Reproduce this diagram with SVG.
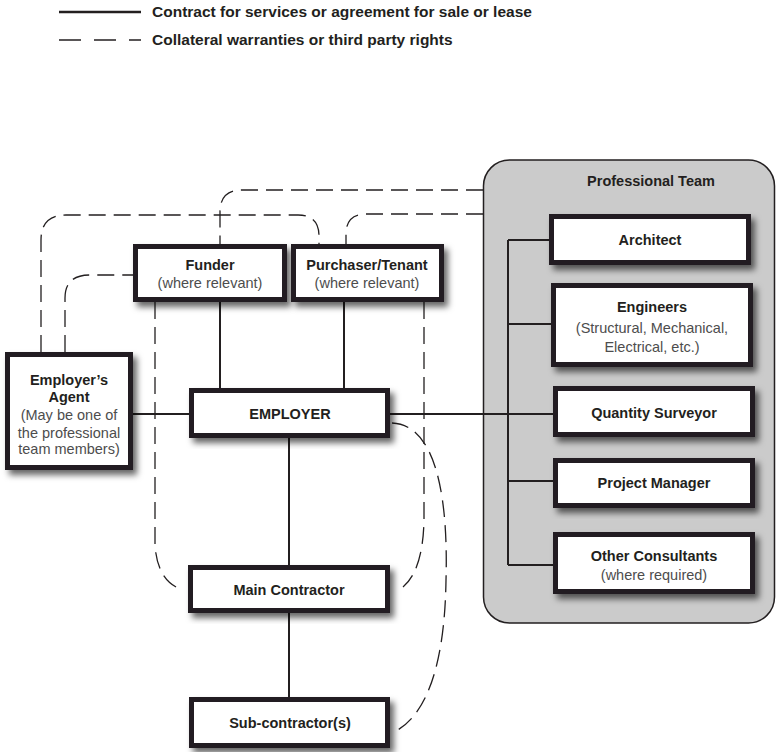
<svg xmlns="http://www.w3.org/2000/svg" width="777" height="752" viewBox="0 0 777 752">
  <defs>
    <filter id="shadow" x="-10%" y="-20%" width="130%" height="150%">
      <feDropShadow dx="4" dy="5" stdDeviation="3" flood-color="#000" flood-opacity="0.6"/>
    </filter>
  </defs>
  <style>
    .box { fill: #fff; stroke: #231f20; stroke-width: 5; filter: url(#shadow); }
    .team { fill: #cbcbcb; stroke: #231f20; stroke-width: 1.5; }
    .solid { fill: none; stroke: #231f20; stroke-width: 2; }
    .dash { fill: none; stroke: #231f20; stroke-width: 1.3; stroke-dasharray: 17 8; }
    text { font-family: "Liberation Sans", Arial, sans-serif; font-size: 14.5px; text-anchor: middle; }
    .t { font-weight: bold; fill: #231f20; }
    .s { fill: #4d4d4d; }
    .legend { font-weight: bold; fill: #231f20; text-anchor: start; font-size: 15.5px; }
  </style>

  <!-- legend -->
  <g id="legend">
    <path d="M59 12 H141" stroke="#231f20" stroke-width="2.5"/>
    <text class="legend" x="152" y="17">Contract for services or agreement for sale or lease</text>
    <path d="M59 40 H141" stroke="#231f20" stroke-width="1.5" stroke-dasharray="22 13"/>
    <text class="legend" x="152" y="45">Collateral warranties or third party rights</text>
  </g>

  <!-- professional team panel -->
  <g id="professional-team">
    <rect class="team" x="483.5" y="160" width="291" height="463" rx="26"/>
    <text class="t" x="651" y="186">Professional Team</text>
  </g>

  <!-- connectors -->
  <g id="connectors">
    <path class="solid" d="M133 414 H189"/>
    <path class="solid" d="M390 414 H553"/>
    <path class="solid" d="M220 302 V388"/>
    <path class="solid" d="M344 302 V388"/>
    <path class="solid" d="M289 438 V565"/>
    <path class="solid" d="M289 613 V697"/>
    <path class="solid" d="M508 240 V565 M508 240 H549 M508 324 H551 M508 481 H553 M508 565 H553"/>

    <path class="dash" d="M483 190 H242 Q220 190 220 212 V244"/>
    <path class="dash" d="M483 214 H366 Q346 214 346 234 V244"/>
    <path class="dash" d="M41 352 V240 Q41 215 66 215 H298 Q319 215 319 236 V244"/>
    <path class="dash" d="M65 352 V298 Q65 275 90 275 H133"/>
    <path class="dash" d="M155 302 V545 Q157 578 178 588"/>
    <path class="dash" d="M424 302 V520 Q423 570 403 587"/>
    <path class="dash" d="M392 423 C440 425 448 510 446 580 C445 650 432 715 392 733"/>
  </g>

  <g id="funder">
    <rect class="box" x="135.5" y="246.5" width="149" height="53"/>
    <text class="t" x="210" y="270">Funder</text>
    <text class="s" x="210" y="288">(where relevant)</text>
  </g>

  <g id="purchaser">
    <rect class="box" x="293.5" y="246.5" width="148" height="53"/>
    <text class="t" x="367" y="270">Purchaser/Tenant</text>
    <text class="s" x="367" y="288">(where relevant)</text>
  </g>

  <g id="employers-agent">
    <rect class="box" x="7.5" y="354.5" width="123" height="113"/>
    <text class="t" x="69" y="385">Employer’s</text>
    <text class="t" x="69" y="402">Agent</text>
    <text class="s" x="69" y="420">(May be one of</text>
    <text class="s" x="69" y="438">the professional</text>
    <text class="s" x="69" y="454">team members)</text>
  </g>

  <g id="employer">
    <rect class="box" x="191.5" y="390.5" width="196" height="45"/>
    <text class="t" x="290" y="419">EMPLOYER</text>
  </g>

  <g id="main-contractor">
    <rect class="box" x="190.5" y="567.5" width="197" height="43"/>
    <text class="t" x="289" y="595">Main Contractor</text>
  </g>

  <g id="sub-contractor">
    <rect class="box" x="191.5" y="699.5" width="196" height="46"/>
    <text class="t" x="290" y="728">Sub-contractor(s)</text>
  </g>

  <g id="architect">
    <rect class="box" x="551.5" y="216.5" width="197" height="46"/>
    <text class="t" x="650" y="245">Architect</text>
  </g>

  <g id="engineers">
    <rect class="box" x="553.5" y="285.5" width="197" height="79"/>
    <text class="t" x="652" y="312">Engineers</text>
    <text class="s" x="652" y="333">(Structural, Mechanical,</text>
    <text class="s" x="652" y="352">Electrical, etc.)</text>
  </g>

  <g id="quantity-surveyor">
    <rect class="box" x="555.5" y="388.5" width="197" height="46"/>
    <text class="t" x="654" y="418">Quantity Surveyor</text>
  </g>

  <g id="project-manager">
    <rect class="box" x="555.5" y="460.5" width="197" height="45"/>
    <text class="t" x="654" y="488">Project Manager</text>
  </g>

  <g id="other-consultants">
    <rect class="box" x="555.5" y="534.5" width="197" height="57"/>
    <text class="t" x="654" y="561">Other Consultants</text>
    <text class="s" x="654" y="580">(where required)</text>
  </g>
</svg>
